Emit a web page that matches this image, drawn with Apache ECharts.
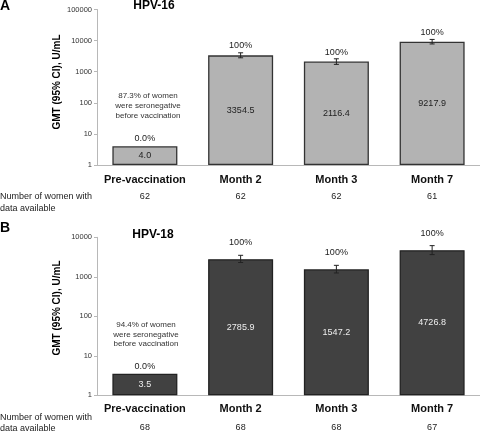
<!DOCTYPE html>
<html><head><meta charset="utf-8">
<script src="https://cdn.jsdelivr.net/npm/echarts@6/dist/echarts.min.js"></script>
<style>html,body{margin:0;padding:0;background:#fff}#c{width:480px;height:442px}</style>
</head><body><div id="c"></div>
<script>
const categories = ['Pre-vaccination', 'Month 2', 'Month 3', 'Month 7'];
const countsA = [62, 62, 62, 61];
const countsB = [68, 68, 68, 67];
const gmtA = [4.0, 3354.5, 2116.4, 9217.9];
const gmtB = [3.5, 2785.9, 1547.2, 4726.8];
const ciLowA = [null, 2800, 1720, 7800];
const ciHighA = [null, 4050, 2600, 10900];
const ciLowB = [null, 2300, 1250, 3650];
const ciHighB = [null, 3500, 1950, 6150];
const pctA = ['0.0%', '100%', '100%', '100%'];
const pctB = ['0.0%', '100%', '100%', '100%'];
const noteA = ['87.3% of women', 'were seronegative', 'before vaccination'];
const noteB = ['94.4% of women', 'were seronegative', 'before vaccination'];
const titles = ['HPV-16', 'HPV-18'];
const panelLetters = ['A', 'B'];
const yTitle = 'GMT (95% CI), U/mL';
const rowTitle = ['Number of women with', 'data available'];
const yMaxA = 100000, yMaxB = 10000;

const FF = '"Liberation Sans", Arial, sans-serif';
const chart = echarts.init(document.getElementById('c'), null, {renderer: 'canvas'});

function errSeries(xi, yi, lows, highs, pcts, offTop) {
  return {
    type: 'custom', xAxisIndex: xi, yAxisIndex: yi, z: 5,
    data: categories.map((c, i) => [i, highs[i] || 1]),
    renderItem: function (params, api) {
      const i = params.dataIndex;
      const gmt = (xi === 0 ? gmtA : gmtB)[i];
      const children = [];
      const top = api.coord([i, gmt]);
      let labelY;
      if (lows[i] != null) {
        const hi = api.coord([i, highs[i]]);
        const lo = api.coord([i, lows[i]]);
        const x = hi[0];
        const st = {stroke: '#222', lineWidth: 1};
        children.push({type: 'line', shape: {x1: x, y1: hi[1], x2: x, y2: lo[1]}, style: st});
        children.push({type: 'line', shape: {x1: x - 2.5, y1: hi[1], x2: x + 2.5, y2: hi[1]}, style: st});
        children.push({type: 'line', shape: {x1: x - 2.5, y1: lo[1], x2: x + 2.5, y2: lo[1]}, style: st});
        labelY = top[1] - offTop;
      } else {
        labelY = top[1] - 7.5;
      }
      children.push({type: 'text', x: top[0], y: labelY,
        style: {text: pcts[i], fill: '#222', font: '9px ' + FF, align: 'center', verticalAlign: 'middle'}});
      return {type: 'group', children: children};
    }
  };
}

function barSeries(xi, yi, vals, fill, border, txt) {
  return {
    type: 'bar', xAxisIndex: xi, yAxisIndex: yi, barWidth: 65,
    data: vals,
    itemStyle: {color: fill, borderColor: border, borderWidth: 1.3},
    label: {show: true, position: 'inside', color: txt, fontSize: 9, fontFamily: FF,
      formatter: p => p.value.toFixed(1)},
    silent: true
  };
}

function xAxis(gi, counts, l1, l2, margin) {
  return {
    type: 'category', gridIndex: gi, data: categories,
    axisLine: {lineStyle: {color: '#b8b8b8', width: 1}},
    axisTick: {show: false},
    axisLabel: {margin: margin, interval: 0,
      formatter: (v, i) => '{c|' + v + '}\n{n|' + counts[i] + '}',
      rich: {
        c: {fontSize: 11, fontWeight: 'bold', fontFamily: FF, color: '#111', lineHeight: l1},
        n: {fontSize: 9, fontFamily: FF, color: '#222', lineHeight: l2}
      }}
  };
}

function yAxis(gi, max) {
  return {
    type: 'log', logBase: 10, gridIndex: gi, min: 1, max: max, interval: 1,
    axisLine: {show: true, lineStyle: {color: '#b8b8b8'}},
    axisTick: {show: true, length: 3, lineStyle: {color: '#b8b8b8'}},
    splitLine: {show: false},
    axisLabel: {fontSize: 7.5, fontFamily: FF, color: '#333', margin: 5,
      formatter: v => String(Math.round(v))}
  };
}

function noteText(lines, cx, y0, dy) {
  return lines.map((t, k) => ({type: 'text', x: cx, y: y0 + k * dy, silent: true,
    style: {text: t, font: '8px ' + FF, fill: '#333', align: 'center', verticalAlign: 'middle'}}));
}

const graphics = [
  {type: 'text', x: 0, y: 6, style: {text: panelLetters[0], font: 'bold 14px ' + FF, fill: '#000', verticalAlign: 'middle'}},
  {type: 'text', x: 0, y: 228, style: {text: panelLetters[1], font: 'bold 14px ' + FF, fill: '#000', verticalAlign: 'middle'}},
  {type: 'text', x: 154, y: 6, style: {text: titles[0], font: 'bold 12px ' + FF, fill: '#000', align: 'center', verticalAlign: 'middle'}},
  {type: 'text', x: 153, y: 235, style: {text: titles[1], font: 'bold 12px ' + FF, fill: '#000', align: 'center', verticalAlign: 'middle'}},
  {type: 'text', x: 57, y: 82, rotation: Math.PI / 2, style: {text: yTitle, font: 'bold 10px ' + FF, fill: '#000', align: 'center', verticalAlign: 'middle'}},
  {type: 'text', x: 57, y: 308, rotation: Math.PI / 2, style: {text: yTitle, font: 'bold 10px ' + FF, fill: '#000', align: 'center', verticalAlign: 'middle'}},
  {type: 'text', x: 0, y: 197, style: {text: rowTitle[0], font: '9px ' + FF, fill: '#222', verticalAlign: 'middle'}},
  {type: 'text', x: 0, y: 208.5, style: {text: rowTitle[1], font: '9px ' + FF, fill: '#222', verticalAlign: 'middle'}},
  {type: 'text', x: 0, y: 417.5, style: {text: rowTitle[0], font: '9px ' + FF, fill: '#222', verticalAlign: 'middle'}},
  {type: 'text', x: 0, y: 429, style: {text: rowTitle[1], font: '9px ' + FF, fill: '#222', verticalAlign: 'middle'}}
].concat(noteText(noteA, 148, 96, 9.7)).concat(noteText(noteB, 146, 324.5, 9.8));

chart.setOption({
  animation: false,
  backgroundColor: '#fff',
  grid: [
    {left: 97, right: -9, top: 9.5, height: 155.5},
    {left: 97, right: -9, top: 237.3, height: 158}
  ],
  xAxis: [xAxis(0, countsA, 16, 18, 7), xAxis(1, countsB, 16, 20, 6)],
  yAxis: [yAxis(0, yMaxA), yAxis(1, yMaxB)],
  series: [
    barSeries(0, 0, gmtA, '#b3b3b3', '#333', '#222'),
    barSeries(1, 1, gmtB, '#414141', '#222', '#eee'),
    errSeries(0, 0, ciLowA, ciHighA, pctA, 9.5),
    errSeries(1, 1, ciLowB, ciHighB, pctB, 17)
  ],
  graphic: graphics
});
</script>
</body></html>
